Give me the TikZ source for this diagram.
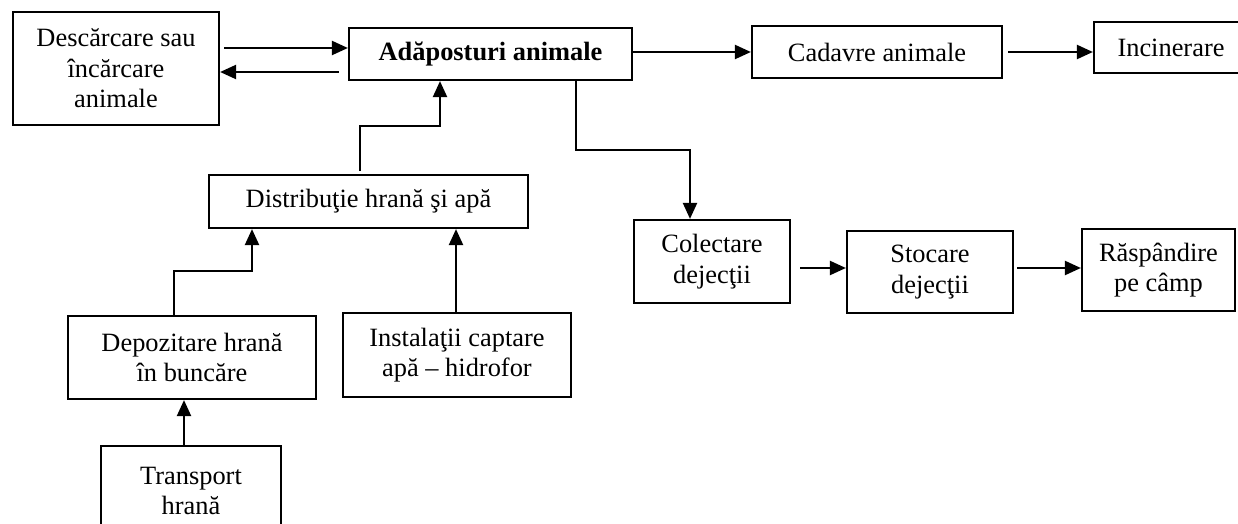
\documentclass[tikz,border=0pt]{standalone}
\usepackage{fontspec}
\setmainfont{Liberation Serif}
\usetikzlibrary{arrows.meta,calc}
\begin{document}
\begin{tikzpicture}[x=0.5pt,y=-0.5pt,
  box/.style={draw, line width=1.1pt, inner sep=0pt, align=center,
    font=\fontsize{13.2}{15.2}\selectfont},
  conn/.style={line width=1.1pt, -{Triangle[length=8pt,width=7pt]}}]
\useasboundingbox (0,0) rectangle (1238,524);
\fill[white] (0,0) rectangle (1238,524);
% boxes
\node[box, minimum width=103pt, minimum height=56.5pt] (desc) at (116,68.5) {Descărcare sau\\încărcare\\animale};
\node[box, minimum width=141.5pt, minimum height=26pt, font=\fontsize{13.2}{15}\selectfont\bfseries] (adap) at (490.5,54) {Adăposturi animale};
\node[box, minimum width=125pt, minimum height=26pt] (cad) at (877,52) {Cadavre animale};
\node[box, minimum width=77pt, minimum height=25.5pt] (inc) at (1171,47.5) {Incinerare};
\node[box, minimum width=159.5pt, minimum height=26.5pt] (dist) at (368.5,201.5) {Distribuţie hrană şi apă};
\node[box, minimum width=78pt, minimum height=41.5pt] (col) at (712,261.5) {Colectare\\dejecţii};
\node[box, minimum width=83pt, minimum height=41pt] (sto) at (930,272) {Stocare\\dejecţii};
\node[box, minimum width=76.5pt, minimum height=41pt] (rasp) at (1158.5,270) {Răspândire\\pe câmp};
\node[box, minimum width=124pt, minimum height=41.5pt] (dep) at (192,357.5) {Depozitare hrană\\în buncăre};
\node[box, minimum width=114pt, minimum height=42pt] (inst) at (457,355) {Instalaţii captare\\apă – hidrofor};
\node[box, minimum width=90pt, minimum height=45pt] (trans) at (191,491) {Transport\\hrană};
% connectors
\draw[conn, shorten <=2pt] (desc.east |- 0,48) -- (adap.west |- 0,48);
\draw[conn, shorten <=4.5pt] (adap.west |- 0,72) -- (desc.east |- 0,72);
\draw[conn] (adap.east |- 0,52) -- (cad.west |- 0,52);
\draw[conn, shorten <=2.5pt] (cad.east |- 0,52) -- (inc.west |- 0,52);
\draw[conn, shorten <=1.5pt] (360,0 |- dist.north) |- (440,126) -- (440,0 |- adap.south);
\draw[conn] (576,0 |- adap.south) |- (690,150) -- (690,0 |- col.north);
\draw[conn] (174,0 |- dep.north) |- (252,271) -- (252,0 |- dist.south);
\draw[conn] (456,0 |- inst.north) -- (456,0 |- dist.south);
\draw[conn] (184,0 |- trans.north) -- (184,0 |- dep.south);
\draw[conn, shorten <=4.5pt] (col.east |- 0,268) -- (sto.west |- 0,268);
\draw[conn, shorten <=1.5pt] (sto.east |- 0,268) -- (rasp.west |- 0,268);
\end{tikzpicture}
\end{document}
